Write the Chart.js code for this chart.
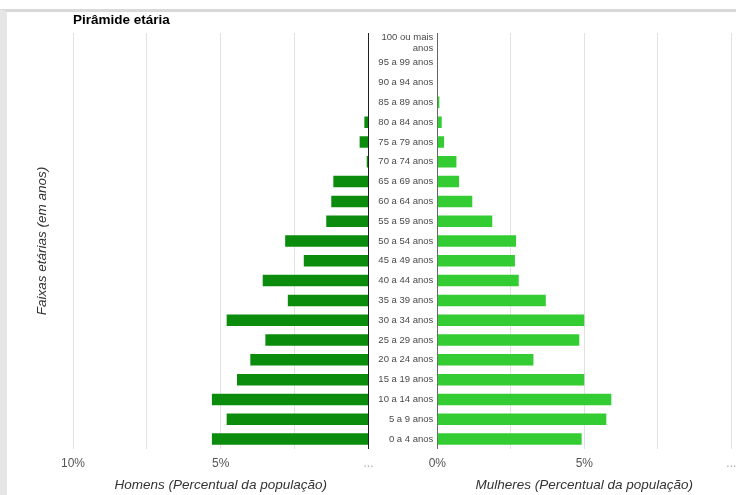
<!DOCTYPE html>
<html>
<head>
<meta charset="utf-8">
<script src="https://cdn.jsdelivr.net/npm/chart.js@4.4.1/dist/chart.umd.min.js"></script>
<style>
html,body{margin:0;padding:0;background:#fff;width:736px;height:495px;overflow:hidden;}
#frame{position:absolute;left:0;top:9px;width:736px;height:486px;border-top:3px solid #d9d9d9;border-left:7px solid #e6e6e6;box-sizing:border-box;}
#left{position:absolute;left:0;top:0;}
#right{position:absolute;left:300px;top:0;}
</style>
</head>
<body>
<div id="frame"></div>
<canvas id="left" width="380" height="495"></canvas>
<canvas id="right" width="436" height="495"></canvas>
<script>
// Age groups, bottom to top
const categories = [
  '0 a 4 anos', '5 a 9 anos', '10 a 14 anos', '15 a 19 anos', '20 a 24 anos',
  '25 a 29 anos', '30 a 34 anos', '35 a 39 anos', '40 a 44 anos', '45 a 49 anos',
  '50 a 54 anos', '55 a 59 anos', '60 a 64 anos', '65 a 69 anos', '70 a 74 anos',
  '75 a 79 anos', '80 a 84 anos', '85 a 89 anos', '90 a 94 anos', '95 a 99 anos',
  ['100 ou mais', 'anos']
];
// Percent of population
const homens = [5.3, 4.8, 5.3, 4.45, 4.0, 3.49, 4.8, 2.73, 3.58, 2.19, 2.82, 1.43, 1.26, 1.19, 0.06, 0.3, 0.14, 0, 0, 0, 0];
const mulheres = [4.91, 5.75, 5.92, 5.0, 3.27, 4.83, 5.0, 3.69, 2.77, 2.64, 2.68, 1.87, 1.19, 0.74, 0.65, 0.23, 0.15, 0.07, 0, 0, 0];
const tickLabelsHomens = {0: '...', 5: '5%', 10: '10%'};
const tickLabelsMulheres = {0: '0%', 5: '5%', 10: '...'};

Chart.defaults.font.family = '"Liberation Sans", Arial, sans-serif';
Chart.defaults.animation = false;

const TOP = 33, AXIS_H = 46;

function xAxis(reverse, labels, title) {
  return {
    type: 'linear', min: 0, max: 10, reverse: reverse,
    afterFit: s => { s.height = AXIS_H; s.paddingLeft = 0; s.paddingRight = 0; },
    border: {display: false},
    grid: {
      drawTicks: false,
      color: c => (c.tick && c.tick.value === 0) ? (reverse ? '#222' : '#666') : '#e2e2e2',
      lineWidth: 1
    },
    ticks: {
      stepSize: 2.5, autoSkip: false, maxRotation: 0, padding: 7,
      font: {size: 12},
      color: c => (labels[c.tick.value] === '...') ? '#aaa' : '#555',
      callback: v => (labels[v] !== undefined ? labels[v] : '')
    },
    title: {
      display: true, text: title, color: '#333',
      font: {size: 13.5, style: 'italic'},
      padding: {top: 0, bottom: 2}
    }
  };
}

new Chart(document.getElementById('left'), {
  type: 'bar',
  data: {
    labels: categories,
    datasets: [{
      label: 'Homens', data: homens, backgroundColor: '#0c8c0c',
      categoryPercentage: 1, barPercentage: 0.58
    }]
  },
  options: {
    responsive: false, indexAxis: 'y',
    layout: {padding: {top: 11.9, right: 11.5, left: 0, bottom: 0}},
    plugins: {
      legend: {display: false}, tooltip: {enabled: false},
      title: {
        display: true, text: 'Pirâmide etária', align: 'start', fullSize: false,
        color: '#000', font: {size: 13.5, weight: 'bold'},
        padding: {top: 0, bottom: 4.9}
      }
    },
    scales: {
      x: xAxis(true, tickLabelsHomens, 'Homens (Percentual da população)'),
      y: {
        type: 'category', reverse: true, position: 'left',
        afterFit: s => { s.width = 73; },
        grid: {display: false, drawTicks: false}, border: {display: false},
        ticks: {display: false},
        title: {
          display: true, text: 'Faixas etárias (em anos)', color: '#333',
          font: {size: 13.5, style: 'italic'}, padding: {top: 34, bottom: 0}
        }
      }
    }
  }
});

new Chart(document.getElementById('right'), {
  type: 'bar',
  data: {
    labels: categories,
    datasets: [{
      label: 'Mulheres', data: mulheres, backgroundColor: '#33cc33',
      categoryPercentage: 1, barPercentage: 0.58
    }]
  },
  options: {
    responsive: false, indexAxis: 'y',
    layout: {padding: {top: TOP, right: 4.7, left: 0, bottom: 0}},
    plugins: {legend: {display: false}, tooltip: {enabled: false}},
    scales: {
      x: xAxis(false, tickLabelsMulheres, 'Mulheres (Percentual da população)'),
      y: {
        type: 'category', reverse: true, position: 'left',
        afterFit: s => { s.width = 137.3; },
        grid: {display: false, drawTicks: false}, border: {display: false},
        ticks: {font: {size: 9.5}, color: '#4a4a4a', padding: 4, autoSkip: false}
      }
    }
  }
});
</script>
</body>
</html>
